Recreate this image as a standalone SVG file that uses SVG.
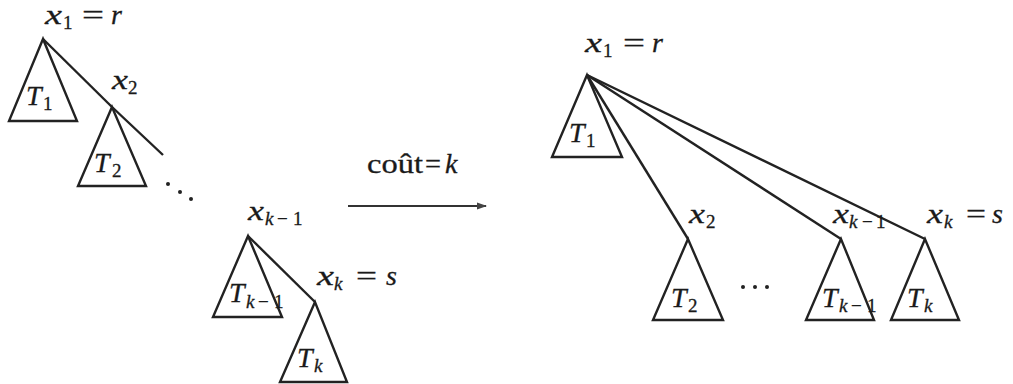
<svg xmlns="http://www.w3.org/2000/svg" width="1013" height="384" viewBox="0 0 1013 384">
<style>
.bg{fill:#ffffff}
.tri{fill:none;stroke:#222;stroke-width:2.4;stroke-linejoin:miter}
.edge{fill:none;stroke:#222;stroke-width:2.4}
text{font-family:"Liberation Serif","Times New Roman",serif;fill:#1a1a1a;stroke:#1a1a1a;stroke-width:0.3}
.m{font-size:28px;font-style:italic}
.s{font-size:19px;font-style:normal}
.si{font-size:19px;font-style:italic}
.r{font-size:28px;font-style:normal}
.dot{fill:#222}
</style>
<defs>
<marker id="ah" markerWidth="10" markerHeight="8" refX="9" refY="4" orient="auto" markerUnits="userSpaceOnUse">
<path d="M0,0.5 L10,4 L0,7.5 Z" fill="#444"/>
</marker>
</defs>
<rect class="bg" x="0" y="0" width="1013" height="384"/>

<g id="connectors">
<line class="edge" x1="43" y1="39" x2="112" y2="107"/>
<line class="edge" x1="112" y1="107" x2="163" y2="155"/>
<line class="edge" x1="248" y1="236" x2="315" y2="302"/>
<line class="edge" x1="587" y1="75" x2="688" y2="239"/>
<line class="edge" x1="587" y1="75" x2="841" y2="239"/>
<line class="edge" x1="587" y1="75" x2="925" y2="239"/>
<line x1="348" y1="206" x2="486" y2="206" stroke="#333" stroke-width="2.2" marker-end="url(#ah)"/>
</g>

<g id="left-x1">
<polygon class="tri" points="43,39 9,121 77,121"/>
<text class="m" x="45" y="24" textLength="17" lengthAdjust="spacingAndGlyphs">x</text><text class="s" x="63" y="29">1</text>
<text class="r" x="82" y="24" textLength="22" lengthAdjust="spacingAndGlyphs">=</text><text class="m" x="111" y="24">r</text>
<text class="m" x="26" y="105">T</text><text class="s" x="43" y="110">1</text>
</g>

<g id="left-x2">
<polygon class="tri" points="112,107 78,186 146,186"/>
<text class="m" x="112" y="89" textLength="16" lengthAdjust="spacingAndGlyphs">x</text><text class="s" x="128" y="94">2</text>
<text class="m" x="94" y="172">T</text><text class="s" x="112" y="177">2</text>
</g>

<g id="left-dots">
<circle class="dot" cx="168" cy="184" r="2"/>
<circle class="dot" cx="180" cy="192" r="2"/>
<circle class="dot" cx="191" cy="199" r="2"/>
</g>

<g id="left-xk-1">
<polygon class="tri" points="248,236 213,317 282,317"/>
<text class="m" x="248" y="220" textLength="16" lengthAdjust="spacingAndGlyphs">x</text><text class="si" x="265" y="225">k</text><text class="s" x="277" y="225">−</text><text class="s" x="293" y="225">1</text>
<text class="m" x="229" y="302">T</text><text class="si" x="246" y="308">k</text><text class="s" x="258" y="308">−</text><text class="s" x="274" y="308">1</text>
</g>

<g id="left-xk">
<polygon class="tri" points="315,302 280,382 347,382"/>
<text class="m" x="317" y="285" textLength="17" lengthAdjust="spacingAndGlyphs">x</text><text class="si" x="334" y="290">k</text>
<text class="r" x="356" y="285" textLength="21" lengthAdjust="spacingAndGlyphs">=</text><text class="m" x="386" y="285">s</text>
<text class="m" x="297" y="367">T</text><text class="si" x="314" y="372">k</text>
</g>

<g id="arrow-label">
<text class="r" x="367" y="173" textLength="56" lengthAdjust="spacingAndGlyphs">coût</text><text class="r" x="425" y="173" textLength="16" lengthAdjust="spacingAndGlyphs">=</text><text class="m" x="445" y="173">k</text>
</g>

<g id="right-x1">
<polygon class="tri" points="587,75 552,157 622,157"/>
<text class="m" x="585" y="52" textLength="17" lengthAdjust="spacingAndGlyphs">x</text><text class="s" x="603" y="57">1</text>
<text class="r" x="623" y="52" textLength="22" lengthAdjust="spacingAndGlyphs">=</text><text class="m" x="652" y="52">r</text>
<text class="m" x="569" y="142">T</text><text class="s" x="586" y="147">1</text>
</g>

<g id="right-x2">
<polygon class="tri" points="688,239 653,320 723,320"/>
<text class="m" x="689" y="223" textLength="16" lengthAdjust="spacingAndGlyphs">x</text><text class="s" x="706" y="228">2</text>
<text class="m" x="671" y="307">T</text><text class="s" x="688" y="312">2</text>
</g>

<g id="right-dots">
<circle class="dot" cx="743" cy="287" r="2"/>
<circle class="dot" cx="755" cy="287" r="2"/>
<circle class="dot" cx="767" cy="287" r="2"/>
</g>

<g id="right-xk-1">
<polygon class="tri" points="841,239 806,320 874,320"/>
<text class="m" x="833" y="223" textLength="16" lengthAdjust="spacingAndGlyphs">x</text><text class="si" x="849" y="228">k</text><text class="s" x="862" y="228">−</text><text class="s" x="876" y="228">1</text>
<text class="m" x="822" y="307">T</text><text class="si" x="839" y="312">k</text><text class="s" x="851" y="312">−</text><text class="s" x="867" y="312">1</text>
</g>

<g id="right-xk">
<polygon class="tri" points="925,239 891,320 959,320"/>
<text class="m" x="927" y="223" textLength="16" lengthAdjust="spacingAndGlyphs">x</text><text class="si" x="944" y="228">k</text>
<text class="r" x="966" y="223" textLength="20" lengthAdjust="spacingAndGlyphs">=</text><text class="m" x="992" y="223">s</text>
<text class="m" x="907" y="307">T</text><text class="si" x="924" y="312">k</text>
</g>
</svg>
